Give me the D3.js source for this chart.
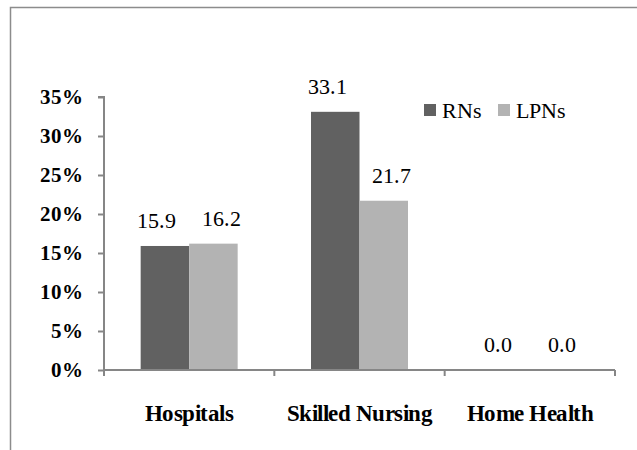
<!DOCTYPE html>
<html>
<head>
<meta charset="utf-8">
<script src="https://cdn.jsdelivr.net/npm/d3@7"></script>
<style>
  @font-face { font-family: "ChartSerif"; src: local("Liberation Serif"), local("LiberationSerif"); font-weight: normal; }
  @font-face { font-family: "ChartSerif"; src: local("Liberation Serif Bold"), local("LiberationSerif-Bold"); font-weight: bold; }
  svg text { font-family: "ChartSerif", "Liberation Serif" !important; }
</style>
</head>
<body style="margin:0">
<script>
// Chart data
let categories = ["Hospitals", "Skilled Nursing", "Home Health"];
let series = ["RNs", "LPNs"];
let rnValues = [15.9, 33.1, 0.0];
let lpnValues = [16.2, 21.7, 0.0];
let yTicks = [0, 5, 10, 15, 20, 25, 30, 35];

let colors = { RNs: "#616161", LPNs: "#b3b3b3" };
let fontFamily = "ChartSerif, 'Liberation Serif'";

// SVG area
let svgWidth = 637;
let svgHeight = 450;

let chartMargin = { top: 97, right: 22, bottom: 80, left: 104 };
let chartWidth = svgWidth - chartMargin.left - chartMargin.right;
let chartHeight = svgHeight - chartMargin.top - chartMargin.bottom;

let svg = d3.select("body")
  .append("svg")
  .attr("width", svgWidth)
  .attr("height", svgHeight)
  .attr("font-family", "Liberation Serif");

// outer frame (runs off the right and bottom edge like the original)
svg.append("rect")
  .attr("x", 10.5)
  .attr("y", 7.5)
  .attr("width", 700)
  .attr("height", 500)
  .attr("fill", "none")
  .attr("stroke", "#8c8c8c")
  .attr("stroke-width", 1.5);

// scales (range already shifted by the margins)
let x0 = d3.scaleBand()
  .domain(categories)
  .range([chartMargin.left, chartMargin.left + chartWidth])
  .padding(0);

let groupWidth = 97;
let x1 = d3.scaleBand()
  .domain(series)
  .range([0, groupWidth]);

let y = d3.scaleLinear()
  .domain([0, 35])
  .range([chartMargin.top + chartHeight, chartMargin.top]);

// flat list of bars from the arrays
let bars = [];
categories.forEach((c, i) => {
  bars.push({ category: c, key: "RNs", value: rnValues[i] });
  bars.push({ category: c, key: "LPNs", value: lpnValues[i] });
});
let barX = d => x0(d.category) + x0.bandwidth() / 2 - groupWidth / 2 + x1(d.key);

// y axis lines
let leftAxis = d3.axisLeft(y)
  .tickValues(yTicks)
  .tickSize(6)
  .tickFormat("");

let yAxisG = svg.append("g")
  .attr("transform", `translate(${chartMargin.left}, 0)`)
  .call(leftAxis);
yAxisG.attr("font-family", null);
yAxisG.select(".domain").attr("d", `M-6,${y(35)}H0V${y(0)}`);
yAxisG.selectAll("path, line").attr("stroke", "#868686").attr("stroke-width", 2);

// bars
svg.selectAll(".bar")
  .data(bars)
  .enter()
  .append("rect")
  .attr("class", "bar")
  .attr("x", barX)
  .attr("y", d => y(d.value))
  .attr("width", x1.bandwidth())
  .attr("height", d => y(0) - y(d.value))
  .attr("fill", d => colors[d.key]);

// x axis
let bottomAxis = d3.axisBottom(x0).tickSize(0).tickFormat("");
let xAxisG = svg.append("g")
  .attr("transform", `translate(0, ${y(0)})`)
  .call(bottomAxis);
xAxisG.attr("font-family", null);
xAxisG.select(".domain")
  .attr("d", `M${chartMargin.left},0H${chartMargin.left + chartWidth}`)
  .attr("stroke", "#868686")
  .attr("stroke-width", 2);

// category tick marks at band edges
let edges = categories.map(c => x0(c)).concat([chartMargin.left + chartWidth]);
xAxisG.selectAll(".edge")
  .data(edges)
  .enter()
  .append("line")
  .attr("x1", d => d)
  .attr("x2", d => d)
  .attr("y1", 0)
  .attr("y2", 6)
  .attr("stroke", "#868686")
  .attr("stroke-width", 2);

// y tick labels
svg.selectAll(".ytick")
  .data(yTicks)
  .enter()
  .append("text")
  .attr("class", "ytick")
  .attr("x", chartMargin.left - 21)
  .attr("y", d => y(d) + 7)
  .attr("text-anchor", "end")
  .attr("font-family", "Liberation Serif")
  .style("font-family", fontFamily, "important")
  .style("font-size", "21px")
  .style("font-weight", "bold")
  .text(d => d + "%");

// value labels
svg.selectAll(".val")
  .data(bars)
  .enter()
  .append("text")
  .attr("class", "val")
  .attr("x", d => barX(d) + x1.bandwidth() / 2 + (d.key === "RNs" ? -8 : 8))
  .attr("y", d => y(d.value) - 18)
  .attr("text-anchor", "middle")
  .attr("font-family", "Liberation Serif")
  .style("font-family", fontFamily, "important")
  .style("font-size", "22px")
  .text(d => d.value.toFixed(1));

// category labels
svg.selectAll(".cat")
  .data(categories)
  .enter()
  .append("text")
  .attr("class", "cat")
  .attr("x", d => x0(d) + x0.bandwidth() / 2)
  .attr("y", y(0) + 51)
  .attr("text-anchor", "middle")
  .attr("font-family", "Liberation Serif")
  .style("font-family", fontFamily, "important")
  .style("font-size", "23px")
  .style("font-weight", "bold")
  .style("letter-spacing", "-0.5px")
  .text(d => d);

// legend
let legendX = [424, 498];
svg.selectAll(".lgbox")
  .data(series)
  .enter()
  .append("rect")
  .attr("class", "lgbox")
  .attr("x", (d, i) => legendX[i])
  .attr("y", 104)
  .attr("width", 12)
  .attr("height", 12)
  .attr("fill", d => colors[d]);

svg.selectAll(".lgtext")
  .data(series)
  .enter()
  .append("text")
  .attr("class", "lgtext")
  .attr("x", (d, i) => legendX[i] + 18)
  .attr("y", 118)
  .attr("font-family", "Liberation Serif")
  .style("font-family", fontFamily, "important")
  .style("font-size", "22px")
  .text(d => d);
</script>
</body>
</html>
